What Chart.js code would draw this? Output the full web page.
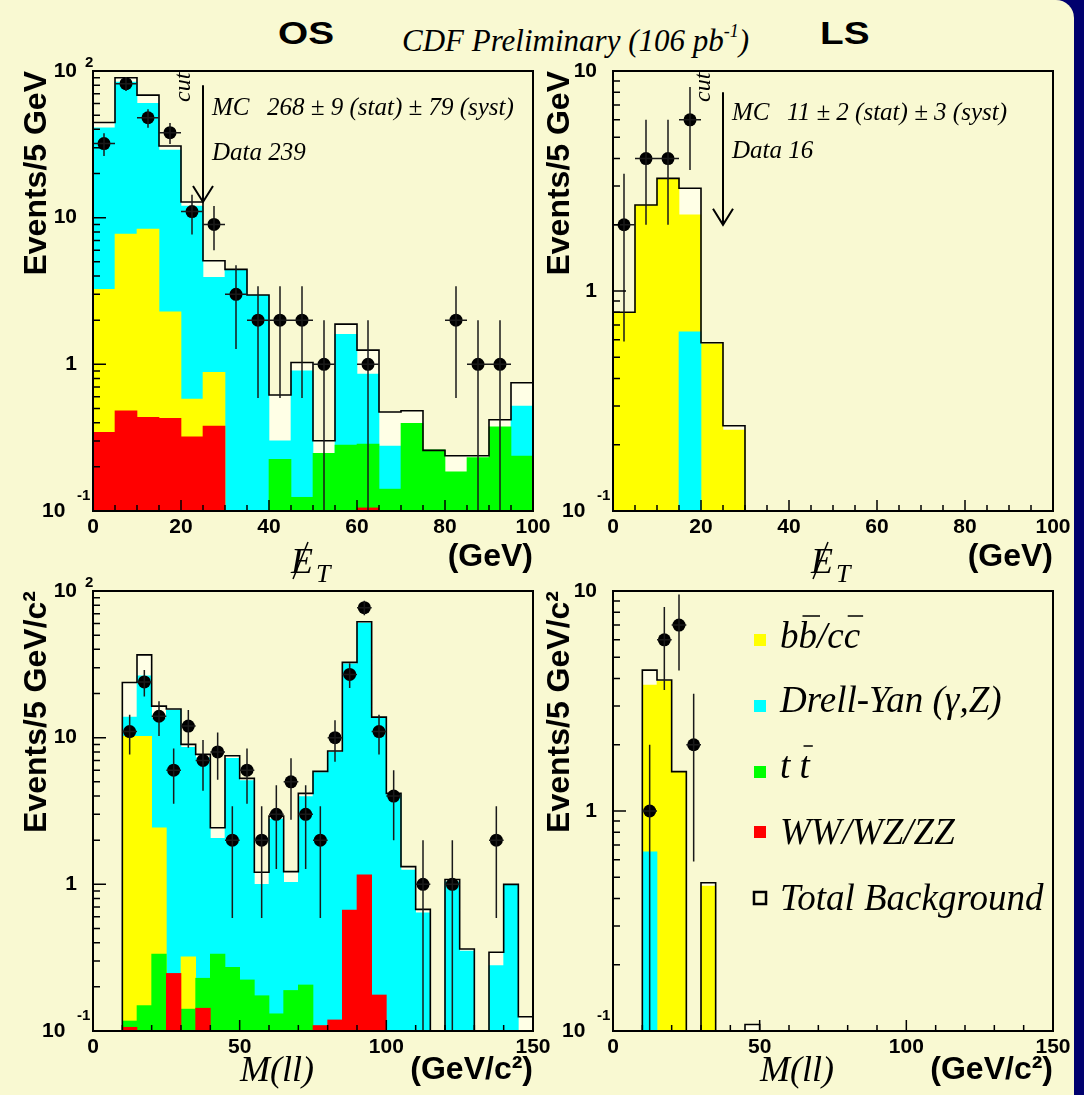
<!DOCTYPE html>
<html>
<head>
<meta charset="utf-8">
<title>CDF Preliminary dilepton MET / M(ll)</title>
<script src="https://cdn.jsdelivr.net/npm/chart.js@4.4.1/dist/chart.umd.min.js"></script>
<style>
  html, body { margin: 0; padding: 0; }
  body { width: 1084px; height: 1095px; background: #00006e; overflow: hidden; }
  #page { position: absolute; left: 0; top: 0; width: 1074px; height: 1095px; background: #f9f9d2;
          border-top-right-radius: 18px; overflow: hidden; }
  canvas { position: absolute; }
  .hdr { position: absolute; line-height: 1; white-space: nowrap; color: #000; }
  .big { font: bold 31px 'Liberation Sans', Arial, sans-serif; transform: scaleX(1.25); transform-origin: 0 0; top: 16px; }
  .cdf { font: italic 31px 'Liberation Serif', 'Times New Roman', serif; left: 402px; top: 23px; }
  .cdf span { font-size: 18px; position: relative; top: -14px; }
</style>
</head>
<body>
<div id="page">
  <div class="hdr big" style="left:278px">OS</div>
  <div class="hdr big" style="left:820px">LS</div>
  <div class="hdr cdf">CDF Preliminary (106 pb<span>-1</span>)</div>
  <canvas id="osMet" width="560" height="585" style="left:0;top:0"></canvas>
  <canvas id="lsMet" width="545" height="585" style="left:530px;top:0"></canvas>
  <canvas id="osMll" width="560" height="520" style="left:0;top:575px"></canvas>
  <canvas id="lsMll" width="545" height="520" style="left:530px;top:575px"></canvas>
</div>
<script>
// ── Bin centres (5 GeV bins) ──
const metCenters = [2.5, 7.5, 12.5, 17.5, 22.5, 27.5, 32.5, 37.5, 42.5, 47.5,
  52.5, 57.5, 62.5, 67.5, 72.5, 77.5, 82.5, 87.5, 92.5, 97.5];
const mllCenters = [2.5, 7.5, 12.5, 17.5, 22.5, 27.5, 32.5, 37.5, 42.5, 47.5,
  52.5, 57.5, 62.5, 67.5, 72.5, 77.5, 82.5, 87.5, 92.5, 97.5,
  102.5, 107.5, 112.5, 117.5, 122.5, 127.5, 132.5, 137.5, 142.5, 147.5];

// ── OS, missing ET ──
const osMetTotal = [44.6, 89.9, 68.5, 30.8, 12.8, 5.09, 4.44, 2.97, 0.618, 1.03, 0.301, 1.88, 1.25, 0.473, 0.483, 0.259, 0.238, 0.238, 0.419, 0.749];
const osMetDY = [41.0, 84.0, 60.1, 28.9, 12.0, 3.92, 4.40, 2.95, 0.301, 0.904, 0, 1.60, 0.859, 0.277, 0, 0, 0, 0, 0, 0.52];
const osMetBB = [3.25, 7.73, 8.36, 2.28, 0.58, 0.882, 0, 0, 0, 0, 0, 0, 0, 0, 0, 0, 0, 0, 0, 0];
const osMetTT = [0, 0, 0, 0, 0, 0, 0, 0, 0.225, 0.124, 0.247, 0.282, 0.286, 0.141, 0.396, 0.261, 0.185, 0.231, 0.375, 0.237];
const osMetWW = [0.344, 0.481, 0.435, 0.428, 0.321, 0.380, 0, 0, 0, 0, 0, 0, 0.105, 0, 0, 0, 0, 0, 0, 0];
const osMetDataX = [2.5, 7.5, 12.5, 17.5, 22.5, 27.5, 32.5, 37.5, 42.5, 47.5, 52.5, 62.5, 82.5, 87.5, 92.5];
const osMetData = [32, 82, 48, 38, 11, 9, 3, 2, 2, 2, 1, 1, 2, 1, 1];
const osMetErr = [5.66, 9.06, 6.93, 6.16, 3.32, 3.0, 1.73, 1.41, 1.41, 1.41, 1.0, 1.0, 1.41, 1.0, 1.0];

// ── LS, missing ET ──
const lsMetTotal = [0.80, 2.46, 3.25, 2.93, 0.582, 0.244, 0, 0, 0, 0, 0, 0, 0, 0, 0, 0, 0, 0, 0, 0];
const lsMetBB = [0.80, 2.46, 3.25, 2.22, 0.575, 0.233, 0, 0, 0, 0, 0, 0, 0, 0, 0, 0, 0, 0, 0, 0];
const lsMetDY = [0, 0, 0, 0.653, 0, 0, 0, 0, 0, 0, 0, 0, 0, 0, 0, 0, 0, 0, 0, 0];
const lsMetDataX = [2.5, 7.5, 12.5, 17.5];
const lsMetData = [2, 4, 4, 6];
const lsMetErr = [1.41, 2.0, 2.0, 2.45];

// ── OS, M(ll) ──
const osMllTotal = [0, 0, 23.8, 36.7, 16.4, 15.7, 9.0, 7.69, 2.43, 7.53, 5.28, 1.21, 2.92, 1.22, 4.17,
  5.89, 8.11, 32.6, 61.7, 13.8, 4.17, 1.32, 0.675, 0, 1.08, 0.362, 0, 0.344, 1.0, 0.125];
const osMllDY = [0, 0, 13.8, 26.4, 13.6, 15.4, 8.6, 7.3, 2.06, 7.23, 5.1, 1.0, 2.79, 1.03, 3.96,
  5.78, 7.99, 31.9, 60.5, 13.6, 4.1, 1.25, 0.64, 0, 1.04, 0.35, 0, 0.279, 1.0, 0];
const osMllBB = [0, 0, 10.2, 10.2, 2.43, 0, 0.321, 0, 0, 0, 0, 0, 0, 0, 0,
  0, 0, 0, 0, 0, 0, 0, 0, 0, 0, 0, 0, 0, 0, 0];
const osMllTT = [0, 0, 0.117, 0.149, 0.335, 0, 0.141, 0.229, 0.335, 0.272, 0.223, 0.174, 0.131, 0.189, 0.206,
  0, 0, 0, 0, 0, 0, 0, 0, 0, 0, 0, 0, 0, 0, 0];
const osMllWW = [0, 0, 0.106, 0, 0, 0.247, 0, 0.143, 0, 0, 0, 0, 0, 0, 0,
  0.109, 0.119, 0.668, 1.16, 0.176, 0, 0, 0, 0, 0, 0, 0, 0, 0, 0];
const osMllDataX = [12.5, 17.5, 22.5, 27.5, 32.5, 37.5, 42.5, 47.5, 52.5, 57.5, 62.5,
  67.5, 72.5, 77.5, 82.5, 87.5, 92.5, 97.5, 102.5, 112.5, 122.5, 137.5];
const osMllData = [11, 24, 14, 6, 12, 7, 8, 2, 6, 2, 3, 5, 3, 2, 10, 27, 77, 11, 4, 1, 1, 2];
const osMllErr = [3.32, 4.90, 3.74, 2.45, 3.46, 2.65, 2.83, 1.41, 2.45, 1.41, 1.73,
  2.24, 1.73, 1.41, 3.16, 5.20, 8.77, 3.32, 2.0, 1.0, 1.0, 1.41];

// ── LS, M(ll) ──
const lsMllTotal = [0, 0, 4.37, 3.94, 1.51, 0, 0.472, 0, 0, 0.107, 0, 0, 0, 0, 0,
  0, 0, 0, 0, 0, 0, 0, 0, 0, 0, 0, 0, 0, 0, 0];
const lsMllBB = [0, 0, 3.74, 3.90, 1.50, 0, 0.456, 0, 0, 0, 0, 0, 0, 0, 0,
  0, 0, 0, 0, 0, 0, 0, 0, 0, 0, 0, 0, 0, 0, 0];
const lsMllDY = [0, 0, 0.653, 0, 0, 0, 0, 0, 0, 0, 0, 0, 0, 0, 0,
  0, 0, 0, 0, 0, 0, 0, 0, 0, 0, 0, 0, 0, 0, 0];
const lsMllDataX = [12.5, 17.5, 22.5, 27.5];
const lsMllData = [1, 6, 7, 2];
const lsMllErr = [1.0, 2.45, 2.65, 1.41];

// ── Legend ──
const legendLabels = ['bb/cc', 'Drell-Yan (\u03b3,Z)', 't t', 'WW/WZ/ZZ', 'Total Background'];
const legendKeys = ['bb', 'dy', 'tt', 'ww', 'total'];
const legendBars = [[1, 4], [], [2], [], []];   // characters carrying an overline

const SANS = "'Liberation Sans', Arial, sans-serif";
const SERIF = "'Liberation Serif', 'Times New Roman', serif";
const FLOOR = 1e-3;   // stands in for an empty bin on the log axis

const colors = { bb: '#ffff00', dy: '#00ffff', tt: '#00ff00', ww: '#ff0000', total: '#ffffe6' };

const panels = {
  osMet: {
    centers: metCenters, half: 2.5, xMax: 100, xStep: 20, xMinor: 5, yMin: 0.1, yMax: 100,
    layers: [['ww', osMetWW], ['tt', osMetTT], ['bb', osMetBB], ['dy', osMetDY]], total: osMetTotal,
    dataX: osMetDataX, dataN: osMetData, dataErr: osMetErr,
    yTitle: 'Events/5 GeV', xUnit: '(GeV)', varLabel: 'met',
    box: { pad: { left: 0, top: 71, right: 27, bottom: 0 }, yw: 93, xh: 74, yTitlePad: 17.8, xTitlePad: 8.8 },
    cut: { x: 25, from: 80, to: 12.8 },
    notes: { mc: '268 \u00b1 9 (stat) \u00b1 79 (syst)', data: 'Data 239', mcY: 44, dataY: 89 }
  },
  lsMet: {
    centers: metCenters, half: 2.5, xMax: 100, xStep: 20, xMinor: 5, yMin: 0.1, yMax: 10,
    layers: [['dy', lsMetDY], ['bb', lsMetBB]], total: lsMetTotal,
    dataX: lsMetDataX, dataN: lsMetData, dataErr: lsMetErr,
    yTitle: 'Events/5 GeV', xUnit: '(GeV)', varLabel: 'met',
    box: { pad: { left: 0, top: 71, right: 22, bottom: 0 }, yw: 83, xh: 74, yTitlePad: 10.8, xTitlePad: 8.8 },
    cut: { x: 25, from: 8, to: 2.0 },
    notes: { mc: '11 \u00b1 2 (stat) \u00b1 3 (syst)', data: 'Data 16', mcY: 49, dataY: 87 }
  },
  osMll: {
    centers: mllCenters, half: 2.5, xMax: 150, xStep: 50, xMinor: 10, yMin: 0.1, yMax: 100,
    layers: [['ww', osMllWW], ['tt', osMllTT], ['bb', osMllBB], ['dy', osMllDY]], total: osMllTotal,
    dataX: osMllDataX, dataN: osMllData, dataErr: osMllErr,
    yTitle: 'Events/5 GeV/c\u00b2', xUnit: '(GeV/c\u00b2)', varLabel: 'mll',
    box: { pad: { left: 0, top: 16, right: 27, bottom: 0 }, yw: 93, xh: 64, yTitlePad: 17.8, xTitlePad: 5.8 }
  },
  lsMll: {
    centers: mllCenters, half: 2.5, xMax: 150, xStep: 50, xMinor: 10, yMin: 0.1, yMax: 10,
    layers: [['dy', lsMllDY], ['bb', lsMllBB]], total: lsMllTotal,
    dataX: lsMllDataX, dataN: lsMllData, dataErr: lsMllErr,
    yTitle: 'Events/5 GeV/c\u00b2', xUnit: '(GeV/c\u00b2)', varLabel: 'mll',
    box: { pad: { left: 0, top: 16, right: 22, bottom: 0 }, yw: 83, xh: 64, yTitlePad: 10.8, xTitlePad: 5.8 },
    legend: true
  }
};

// ── Histogram outline as a stepped line through bin edges ──
function outline(centers, half, total) {
  const pts = [{ x: centers[0] - half, y: FLOOR }];
  total.forEach((v, i) => pts.push({ x: centers[i] - half, y: v > 0 ? v : FLOOR }));
  pts.push({ x: centers[centers.length - 1] + half, y: FLOOR });
  return pts;
}

function barSet(centers, values, color, order) {
  return {
    type: 'bar',
    data: centers.map((x, i) => ({ x, y: values[i] > 0 ? values[i] : null })),
    backgroundColor: color,
    borderWidth: 0,
    grouped: false,
    barPercentage: 1,
    categoryPercentage: 1,
    order,
  };
}

// ── ROOT-style frame, inner ticks, error bars and annotations ──
const hepPlugin = {
  id: 'hep',
  afterDatasetsDraw(chart) {
    const p = panels[chart.canvas.id];
    const { ctx, chartArea: a, scales: { x, y } } = chart;
    ctx.save();
    ctx.beginPath();
    ctx.rect(a.left, a.top, a.right - a.left, a.bottom - a.top);
    ctx.clip();
    ctx.strokeStyle = '#1a1a1a';
    ctx.lineWidth = 1.5;
    p.dataX.forEach((cx, i) => {
      const n = p.dataN[i], e = p.dataErr[i];
      const px = x.getPixelForValue(cx), py = y.getPixelForValue(n);
      const lo = n - e > 0 ? y.getPixelForValue(n - e) : a.bottom;
      ctx.beginPath();
      ctx.moveTo(px, lo);
      ctx.lineTo(px, y.getPixelForValue(n + e));
      ctx.moveTo(x.getPixelForValue(cx - p.half), py);
      ctx.lineTo(x.getPixelForValue(cx + p.half), py);
      ctx.stroke();
    });
    ctx.restore();
  },
  afterDraw(chart) {
    const p = panels[chart.canvas.id];
    const { ctx, chartArea: a, scales: { x, y } } = chart;
    ctx.save();
    ctx.strokeStyle = '#000';
    ctx.fillStyle = '#000';

    // ticks pointing into the frame
    ctx.lineWidth = 1.5;
    ctx.beginPath();
    for (let v = x.min; v <= x.max + 1e-6; v += p.xMinor) {
      const px = x.getPixelForValue(v);
      const major = Math.abs(v / p.xStep - Math.round(v / p.xStep)) < 1e-6;
      ctx.moveTo(px, a.bottom);
      ctx.lineTo(px, a.bottom - (major ? 11 : 6));
    }
    const e0 = Math.round(Math.log10(y.min)), e1 = Math.round(Math.log10(y.max));
    for (let e = e0; e <= e1; e++) {
      for (let m = 1; m <= (e === e1 ? 1 : 9); m++) {
        const py = y.getPixelForValue(m * Math.pow(10, e));
        ctx.moveTo(a.left, py);
        ctx.lineTo(a.left + (m === 1 ? 13 : 7), py);
      }
    }
    ctx.stroke();

    ctx.lineWidth = 2;
    ctx.strokeRect(a.left, a.top, a.right - a.left, a.bottom - a.top);

    // exponents on the decade labels
    ctx.font = `bold 15px ${SANS}`;
    ctx.textAlign = 'left';
    ctx.textBaseline = 'middle';
    for (let e = e0; e <= e1; e++) {
      if (e === 0 || e === 1) continue;
      const py = y.getPixelForValue(Math.pow(10, e));
      if (e > 0) ctx.fillText(String(e), a.left - 8, py - 8);
      else ctx.fillText(String(e), a.left - 16, py - 15);
    }

    ctx.textBaseline = 'alphabetic';

    // cut arrow
    if (p.cut) {
      const cx = x.getPixelForValue(p.cut.x);
      const y0 = y.getPixelForValue(p.cut.from), y1 = y.getPixelForValue(p.cut.to);
      ctx.lineWidth = 2;
      ctx.beginPath();
      ctx.moveTo(cx, y0);
      ctx.lineTo(cx, y1);
      ctx.moveTo(cx - 10, y1 - 16);
      ctx.lineTo(cx, y1);
      ctx.lineTo(cx + 10, y1 - 16);
      ctx.stroke();
      ctx.save();
      ctx.translate(cx - 13, a.top + 31);
      ctx.rotate(-Math.PI / 2);
      ctx.font = `italic 24px ${SERIF}`;
      ctx.fillText('cut', 0, 0);
      ctx.restore();
    }

    if (p.notes) {
      ctx.font = `italic 25px ${SERIF}`;
      ctx.fillText('MC', a.left + 119, a.top + p.notes.mcY);
      ctx.fillText(p.notes.mc, a.left + 174, a.top + p.notes.mcY);
      ctx.fillText(p.notes.data, a.left + 119, a.top + p.notes.dataY);
    }

    // variable name under the axis
    ctx.font = `italic 36px ${SERIF}`;
    if (p.varLabel === 'met') {
      const ex = a.left + 198, by = a.bottom + 62;
      ctx.fillText('E', ex, by);
      const w = ctx.measureText('E').width;
      ctx.font = `italic 26px ${SERIF}`;
      ctx.fillText('T', ex + w + 3, by + 9);
      ctx.lineWidth = 1.5;
      ctx.beginPath();
      ctx.moveTo(ex + 2, by + 6);
      ctx.lineTo(ex + 17, by - 31);
      ctx.stroke();
    } else {
      ctx.fillText('M(ll)', a.left + 147, a.bottom + 50);
    }

    if (p.legend) {
      const boxTop = [43, 109, 175, 235, 301];
      const base = [57, 121, 187, 253, 319];
      legendLabels.forEach((label, i) => {
        const bx = a.left + 141;
        if (legendKeys[i] === 'total') {
          ctx.lineWidth = 2.5;
          ctx.strokeRect(bx, a.top + boxTop[i], 12, 12);
        } else {
          ctx.fillStyle = colors[legendKeys[i]];
          ctx.fillRect(bx, a.top + boxTop[i], 12, 12);
        }
        ctx.fillStyle = '#000';
        ctx.font = `italic 37px ${SERIF}`;
        const tx = a.left + 167, ty = a.top + base[i];
        ctx.fillText(label, tx, ty);
        ctx.lineWidth = 1.5;
        legendBars[i].forEach((k) => {
          const x0 = tx + ctx.measureText(label.slice(0, k)).width;
          const x1 = x0 + ctx.measureText(label[k]).width;
          ctx.beginPath();
          ctx.moveTo(x0 + 4, ty - 32);
          ctx.lineTo(x1 + 3, ty - 32);
          ctx.stroke();
        });
      });
    }
    ctx.restore();
  }
};

function makeChart(id) {
  const p = panels[id];
  const b = p.box;
  const datasets = [
    {
      type: 'scatter',
      data: p.dataX.map((x, i) => ({ x, y: p.dataN[i] })),
      pointRadius: 6.5,
      pointHoverRadius: 6.5,
      backgroundColor: '#000',
      borderColor: '#000',
      borderWidth: 0,
      order: 0,
    },
    {
      type: 'line',
      data: outline(p.centers, p.half, p.total),
      stepped: 'before',
      borderColor: '#000',
      borderWidth: 1.6,
      pointRadius: 0,
      fill: false,
      order: 1,
    },
  ];
  p.layers.forEach(([key, vals], i) => datasets.push(barSet(p.centers, vals, colors[key], 2 + i)));
  datasets.push(barSet(p.centers, p.total, colors.total, 10));

  return new Chart(document.getElementById(id), {
    type: 'bar',
    data: { datasets },
    options: {
      responsive: false,
      animation: false,
      events: [],
      layout: { padding: b.pad },
      plugins: { legend: { display: false }, tooltip: { enabled: false } },
      scales: {
        x: {
          type: 'linear',
          min: 0,
          max: p.xMax,
          offset: false,
          grid: { display: false, drawTicks: false, offset: false },
          border: { display: false },
          ticks: { stepSize: p.xStep, autoSkip: false, maxRotation: 0, padding: 4, color: '#000',
                   font: { family: SANS, size: 21, weight: 'bold' } },
          title: { display: true, text: p.xUnit, align: 'end', color: '#000',
                   font: { family: SANS, size: 32, weight: 'bold' }, padding: { top: 0, bottom: b.xTitlePad } },
          afterFit(s) { s.height = b.xh; s.paddingLeft = 0; s.paddingRight = 0; },
        },
        y: {
          type: 'logarithmic',
          min: p.yMin,
          max: p.yMax,
          grid: { display: false, drawTicks: false },
          border: { display: false },
          ticks: {
            autoSkip: false, padding: 16, color: '#000',
            font: { family: SANS, size: 21, weight: 'bold' },
            callback: (v) => {
              const e = Math.log10(v);
              if (Math.abs(e - Math.round(e)) > 1e-6) return '';
              const k = Math.round(e);
              if (k === 0) return '1';
              if (k < 0) return '10  ';
              return '10';
            },
          },
          title: { display: true, text: p.yTitle, align: 'end', color: '#000',
                   font: { family: SANS, size: 32, weight: 'bold' }, padding: { top: b.yTitlePad, bottom: 0 } },
          afterFit(s) { s.width = b.yw; s.paddingTop = 0; s.paddingBottom = 0; },
        },
      },
    },
    plugins: [hepPlugin],
  });
}

['osMet', 'lsMet', 'osMll', 'lsMll'].forEach(makeChart);
</script>
</body>
</html>
